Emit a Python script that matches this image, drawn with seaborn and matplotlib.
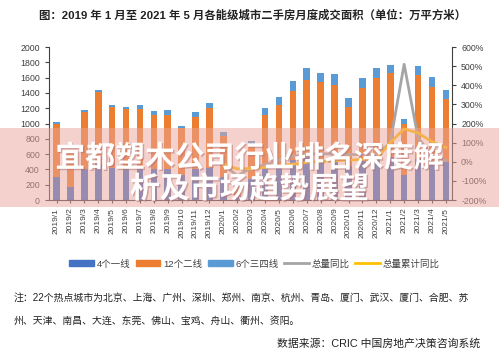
import numpy as np
import pandas as pd
import seaborn as sns
import matplotlib.pyplot as plt
import matplotlib.patheffects as pe
from matplotlib.patches import Patch, Rectangle
from matplotlib.lines import Line2D

months = ['2019/1', '2019/2', '2019/3', '2019/4', '2019/5', '2019/6', '2019/7', '2019/8',
          '2019/9', '2019/10', '2019/11', '2019/12', '2020/1', '2020/2', '2020/3', '2020/4',
          '2020/5', '2020/6', '2020/7', '2020/8', '2020/9', '2020/10', '2020/11', '2020/12',
          '2021/1', '2021/2', '2021/3', '2021/4', '2021/5']

# 4个一线 / 6个三四线 / 合计 (万平方米)
tier1 = [300, 170, 400, 470, 420, 410, 420, 400, 400, 330, 400, 420,
         300, 50, 280, 420, 470, 520, 560, 520, 510, 450, 520, 560,
         560, 330, 530, 510, 500]
tier34 = [20, 15, 25, 25, 20, 30, 50, 55, 65, 35, 60, 65,
          45, 10, 60, 90, 100, 130, 150, 125, 140, 110, 130, 130,
          110, 70, 120, 125, 120]
total = [1016, 640, 1172, 1434, 1238, 1216, 1238, 1163, 1176, 971, 1146, 1264,
         885, 170, 775, 1198, 1342, 1556, 1721, 1664, 1643, 1329, 1590, 1721,
         1765, 1059, 1752, 1608, 1438]

# 同比 (%)，从2020/1开始
yoy = [-13, -74, -34, -16, 8, 28, 39, 43, 40, 37, 39, 36,
       99, 510, 126, 34, 7]
yoy_cum = [-13, -37, -35, -29, -21, -12, -4, 2, 6, 9, 12, 14,
           100, 172, 151, 105, 75]

c1, c2, c3 = '#4472C4', '#ED7D31', '#5B9BD5'
c_yoy, c_cum = '#A5A5A5', '#FFC000'

plt.rcParams['font.family'] = ['Liberation Sans', 'Noto Sans CJK SC']
plt.rcParams['axes.unicode_minus'] = True

df = pd.DataFrame({'month': months, 'tier1': tier1, 'tier34': tier34, 'total': total})
df['tier2'] = df['total'] - df['tier1'] - df['tier34']
df['low2'] = df['tier1'] + df['tier2']

fig = plt.figure(figsize=(4.99, 3.54), dpi=100)
ax = fig.add_axes([0.098, 0.435, 0.808, 0.432])

sns.barplot(data=df, x='month', y='total', color=c3, saturation=1, width=0.48, ax=ax)
sns.barplot(data=df, x='month', y='low2', color=c2, saturation=1, width=0.48, ax=ax)
sns.barplot(data=df, x='month', y='tier1', color=c1, saturation=1, width=0.48, ax=ax)

ax2 = ax.twinx()
xpos = np.arange(len(months))[len(months) - len(yoy):]
sns.lineplot(x=xpos, y=yoy, color=c_yoy, lw=2, ax=ax2)
sns.lineplot(x=xpos, y=yoy_cum, color=c_cum, lw=2, ax=ax2)

ax.set_xlim(-0.55, len(months) - 0.55)
ax.set_ylim(0, 2000)
ax.set_yticks(range(0, 2001, 200))
ax2.set_ylim(-200, 600)
ax2.set_yticks(range(-200, 601, 100))
ax2.set_yticklabels([f'{v}%' for v in range(-200, 601, 100)])
ax.set_xlabel('')
ax.set_ylabel('')
ax2.set_ylabel('')

for a in (ax, ax2):
    a.spines['top'].set_visible(False)
    a.tick_params(labelsize=6.3, colors='#404040', length=3, width=0.8)
ax.tick_params(axis='x', rotation=90, labelsize=6, length=2)
ax.spines['right'].set_visible(False)
ax2.spines['left'].set_visible(False)
ax2.spines['bottom'].set_visible(False)
for s in ['left', 'bottom']:
    ax.spines[s].set_color('#404040')
ax2.spines['right'].set_color('#404040')

handles = [Patch(color=c1), Patch(color=c2), Patch(color=c3),
           Line2D([], [], color=c_yoy, lw=2), Line2D([], [], color=c_cum, lw=2)]
labels = ['4个一线', '12个二线', '6个三四线', '总量同比', '总量累计同比']
fig.legend(handles, labels, loc='center', bbox_to_anchor=(0.51, 0.254), ncol=5,
           frameon=False, fontsize=6.8, handlelength=2.6, handleheight=0.6,
           columnspacing=0.6, handletextpad=0.3, labelcolor='#404040')

fig.text(0.507, 0.958, '图：2019 年 1 月至 2021 年 5 月各能级城市二手房月度成交面积（单位：万平方米）',
         ha='center', va='center', fontsize=8.2, fontweight='bold', color='#222222')
fig.text(0.028, 0.158, '注：22个热点城市为北京、上海、广州、深圳、郑州、南京、杭州、青岛、厦门、武汉、厦门、合肥、苏',
         ha='left', va='center', fontsize=7.1, color='#222222')
fig.text(0.028, 0.095, '州、天津、南昌、大连、东莞、佛山、宝鸡、舟山、衢州、资阳。',
         ha='left', va='center', fontsize=7.1, color='#222222')
fig.text(0.963, 0.030, '数据来源：CRIC 中国房地产决策咨询系统',
         ha='right', va='center', fontsize=7.8, color='#222222')

# 覆盖横幅
fig.patches.append(Rectangle((0, 1 - 207 / 354), 1, 79 / 354, transform=fig.transFigure,
                             facecolor='#eaa59b', alpha=0.5, edgecolor='none', zorder=10))
shadow = [pe.withSimplePatchShadow(offset=(1, -1), shadow_rgbFace='#b07070', alpha=0.5)]
fig.text(0.5, 1 - 158 / 354, '宜都塑木公司行业排名深度解', ha='center', va='center',
         fontsize=21.5, fontweight='bold', color='white', zorder=11,
         family=['Noto Sans CJK SC'], path_effects=shadow)
fig.text(0.5, 1 - 189 / 354, '析及市场趋势展望', ha='center', va='center',
         fontsize=21.5, fontweight='bold', color='white', zorder=11,
         family=['Noto Sans CJK SC'], path_effects=shadow)

fig.savefig('out.png', dpi=100, facecolor='white')
